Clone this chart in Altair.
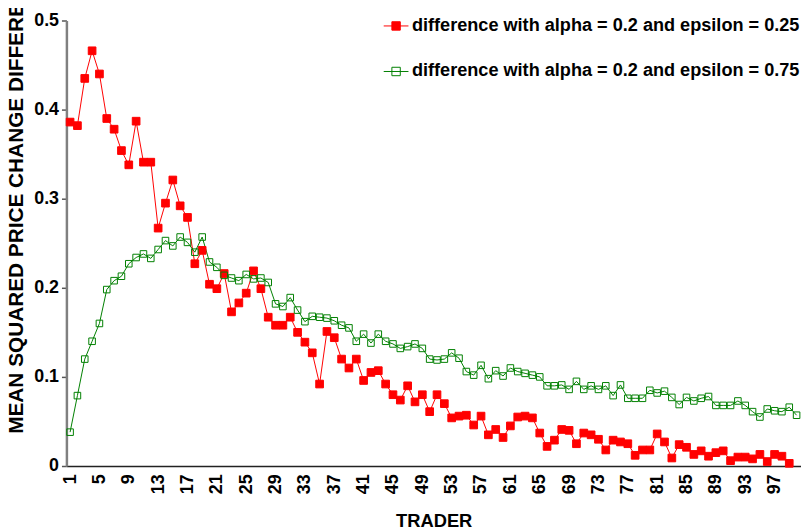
import altair as alt
import pandas as pd

traders = list(range(1, 101))

red_values = [
    0.386, 0.382, 0.435, 0.466, 0.440, 0.390, 0.378, 0.354, 0.338, 0.387,
    0.341, 0.341, 0.267, 0.295, 0.321, 0.292, 0.279, 0.227, 0.242, 0.204,
    0.199, 0.216, 0.173, 0.183, 0.194, 0.219, 0.199, 0.167, 0.158, 0.158,
    0.167, 0.150, 0.139, 0.127, 0.092, 0.151, 0.144, 0.120, 0.110, 0.120,
    0.096, 0.105, 0.107, 0.092, 0.080, 0.074, 0.090, 0.072, 0.080, 0.061,
    0.080, 0.070, 0.054, 0.056, 0.057, 0.046, 0.056, 0.035, 0.041, 0.032,
    0.045, 0.055, 0.056, 0.054, 0.037, 0.022, 0.029, 0.041, 0.040, 0.025,
    0.037, 0.035, 0.030, 0.018, 0.029, 0.027, 0.025, 0.012, 0.018, 0.018,
    0.036, 0.027, 0.009, 0.024, 0.021, 0.013, 0.017, 0.011, 0.015, 0.017,
    0.006, 0.010, 0.010, 0.008, 0.013, 0.005, 0.013, 0.011, 0.003, None,
]

green_values = [
    0.038, 0.079, 0.120, 0.140, 0.160, 0.198, 0.208, 0.213, 0.227, 0.234,
    0.238, 0.233, 0.243, 0.253, 0.247, 0.257, 0.251, 0.240, 0.257, 0.229,
    0.223, 0.214, 0.211, 0.208, 0.215, 0.210, 0.211, 0.206, 0.182, 0.179,
    0.189, 0.175, 0.162, 0.168, 0.167, 0.166, 0.163, 0.158, 0.155, 0.140,
    0.148, 0.138, 0.148, 0.140, 0.137, 0.132, 0.134, 0.137, 0.132, 0.120,
    0.119, 0.120, 0.127, 0.121, 0.106, 0.102, 0.113, 0.098, 0.107, 0.101,
    0.110, 0.106, 0.104, 0.102, 0.100, 0.090, 0.090, 0.091, 0.086, 0.095,
    0.086, 0.090, 0.086, 0.090, 0.079, 0.091, 0.076, 0.076, 0.076, 0.085,
    0.082, 0.084, 0.077, 0.069, 0.077, 0.073, 0.076, 0.078, 0.068, 0.068,
    0.068, 0.073, 0.068, 0.061, 0.055, 0.064, 0.062, 0.061, 0.066, 0.057,
]

series_names = [
    "difference with alpha = 0.2 and epsilon = 0.25",
    "difference with alpha = 0.2 and epsilon = 0.75",
]
x_tick_values = list(range(1, 98, 4))
y_tick_values = [0, 0.1, 0.2, 0.3, 0.4, 0.5]

rows = []
for name, vals in zip(series_names, [red_values, green_values]):
    for t, v in zip(traders, vals):
        if v is not None:
            rows.append({"trader": t, "value": v, "series": name})
df = pd.DataFrame(rows)

FONT = "Liberation Sans"
SYMBOL = "M-1,0H1M-0.34,-0.34H0.34V0.34H-0.34Z"

stroke_scale = alt.Scale(domain=series_names, range=["#ff0000", "#008000"])
fill_scale = alt.Scale(domain=series_names, range=["#ff0000", "transparent"])

legend = alt.Legend(
    title=None, orient="none", legendX=320, legendY=-7.5,
    symbolType=SYMBOL, symbolSize=625, symbolStrokeWidth=1,
    labelFont=FONT, labelFontSize=18.3, labelFontWeight="bold", labelColor="black",
    rowPadding=24, labelOffset=3, labelLimit=0, padding=0,
)

x_enc = alt.X(
    "trader:Q",
    scale=alt.Scale(domain=[0.5, 100.6], nice=False, zero=False),
    axis=alt.Axis(
        values=x_tick_values, labelAngle=270, ticks=False, grid=False,
        title="TRADER", labelPadding=8, labelFont=FONT, labelFontSize=18,
        labelFontWeight="bold", labelColor="black", labelOverlap=False,
        labelFlush=False, labelBound=False,
        domainColor="#222222", domainWidth=1.5,
        titleFont=FONT, titleFontSize=18.5, titleFontWeight="bold",
        titleColor="black", titlePadding=18,
    ),
)
y_enc = alt.Y(
    "value:Q",
    scale=alt.Scale(domain=[0, 0.5], nice=False),
    axis=alt.Axis(
        values=y_tick_values, format=".1~f", grid=False,
        tickSize=5, tickWidth=1.5, tickColor="#555555",
        domainColor="#808080", domainWidth=2.5,
        labelPadding=3, labelFont=FONT, labelFontSize=18,
        labelFontWeight="bold", labelColor="black",
        title="MEAN SQUARED PRICE CHANGE DIFFERENCE",
        titleFont=FONT, titleFontSize=21, titleFontWeight="bold",
        titleColor="black", titleAngle=270, titleAlign="left",
        titleBaseline="middle", titleX=-50, titleY=417,
    ),
)

stroke_enc = alt.Stroke("series:N", scale=stroke_scale, legend=legend)
fill_enc = alt.Fill("series:N", scale=fill_scale, legend=legend)

base = alt.Chart(df)
lines = base.mark_line(strokeWidth=1).encode(x=x_enc, y=y_enc, stroke=stroke_enc)
red_points = (
    base.transform_filter(alt.datum.series == series_names[0])
    .mark_point(shape="square", strokeWidth=1, opacity=1, size=60)
    .encode(x=x_enc, y=y_enc, stroke=stroke_enc, fill=fill_enc)
)
green_points = (
    base.transform_filter(alt.datum.series == series_names[1])
    .mark_point(shape="square", strokeWidth=1, opacity=1, size=44)
    .encode(x=x_enc, y=y_enc, stroke=stroke_enc, fill=fill_enc)
)

chart = (
    alt.layer(lines, red_points, green_points)
    .properties(
        width=742, height=450,
        autosize=alt.AutoSizeParams(type="none"),
        padding={"left": 59, "top": 10, "right": 0, "bottom": 61},
        background="white",
    )
    .configure_view(stroke=None)
)

chart.save("out.html", embed_options={"renderer": "svg", "actions": False})
